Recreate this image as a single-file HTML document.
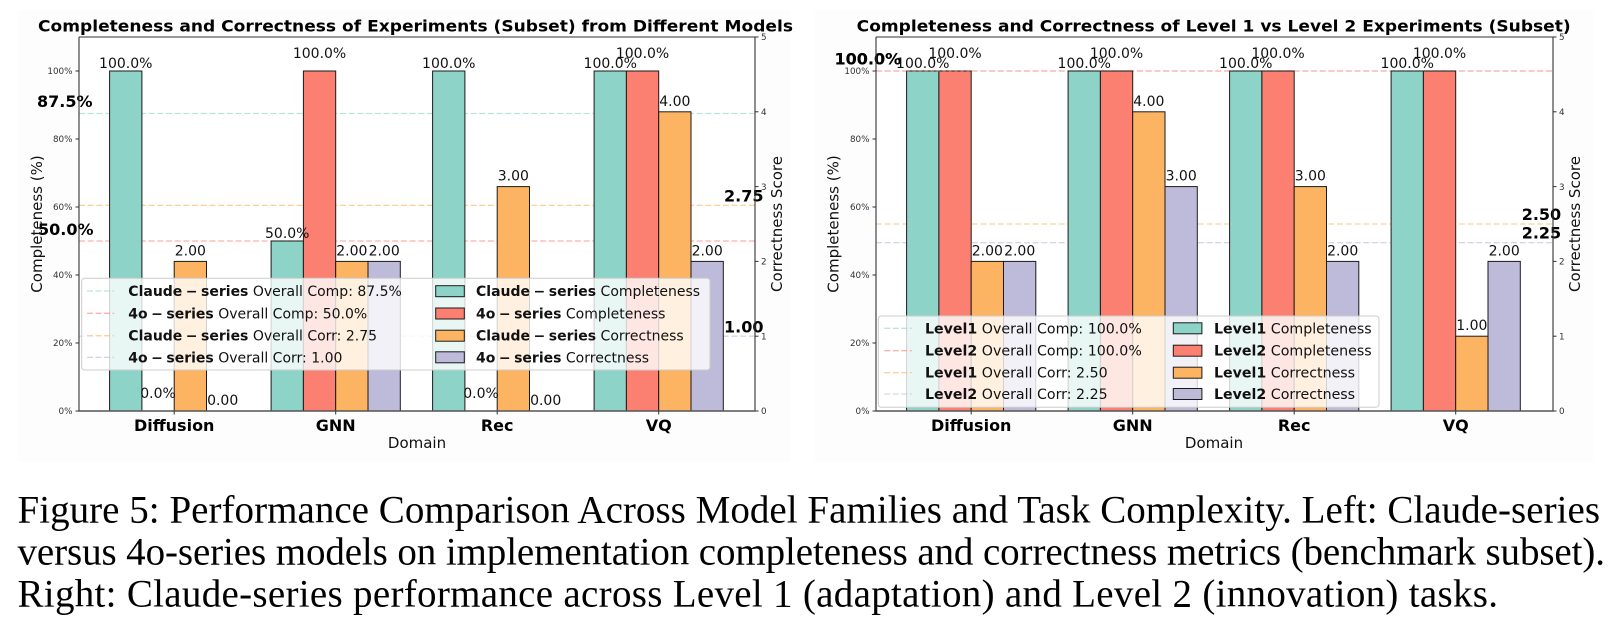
<!DOCTYPE html>
<html>
<head>
<meta charset="utf-8">
<style>
  html,body{margin:0;padding:0;background:#fff;}
  svg{display:block;}
  .t{font-family:"DejaVu Sans","Liberation Sans",sans-serif;}
  .cap{font-family:"Liberation Serif","Times New Roman",serif;}
</style>
</head>
<body>
<svg width="1618" height="632" viewBox="0 0 1618 632" xmlns="http://www.w3.org/2000/svg">
  <rect x="0" y="0" width="1618" height="632" fill="#ffffff"/>
  <rect x="17" y="10" width="773" height="452" fill="#fdfdfd"/>
  <rect x="815" y="10" width="778" height="452" fill="#fdfdfd"/>

  <!-- ================= LEFT CHART ================= -->
  <rect x="79" y="37" width="676" height="374" fill="#ffffff"/>
  <text class="t" x="415.5" y="31.7" font-size="16" font-weight="bold" text-anchor="middle" textLength="755" lengthAdjust="spacingAndGlyphs" fill="#000">Completeness and Correctness of Experiments (Subset) from Different Models</text>

  <!-- overall dashed lines -->
  <g stroke-width="1.3" stroke-dasharray="6,2.7" opacity="0.6">
    <line x1="79" y1="113.5" x2="755" y2="113.5" stroke="#8dd3c7"/>
    <line x1="79" y1="241" x2="755" y2="241" stroke="#fb8072"/>
    <line x1="79" y1="205.3" x2="755" y2="205.3" stroke="#fdb462"/>
    <line x1="79" y1="336.2" x2="755" y2="336.2" stroke="#bebada"/>
  </g>

  <!-- bars -->
  <g stroke="#1a1a1a" stroke-width="1">
    <rect x="109.6" y="71" width="32.3" height="340" fill="#8dd3c7"/>
    <rect x="174.2" y="261.4" width="32.3" height="149.6" fill="#fdb462"/>

    <rect x="271.1" y="241" width="32.3" height="170" fill="#8dd3c7"/>
    <rect x="303.4" y="71" width="32.3" height="340" fill="#fb8072"/>
    <rect x="335.7" y="261.4" width="32.3" height="149.6" fill="#fdb462"/>
    <rect x="368.0" y="261.4" width="32.3" height="149.6" fill="#bebada"/>

    <rect x="432.6" y="71" width="32.3" height="340" fill="#8dd3c7"/>
    <rect x="497.2" y="186.6" width="32.3" height="224.4" fill="#fdb462"/>

    <rect x="594.1" y="71" width="32.3" height="340" fill="#8dd3c7"/>
    <rect x="626.4" y="71" width="32.3" height="340" fill="#fb8072"/>
    <rect x="658.7" y="111.8" width="32.3" height="299.2" fill="#fdb462"/>
    <rect x="691.0" y="261.4" width="32.3" height="149.6" fill="#bebada"/>
  </g>

  <!-- bar labels -->
  <g class="t" font-size="14" text-anchor="middle" fill="#111">
    <text x="125.75" y="68">100.0%</text>
    <text x="158.05" y="398">0.0%</text>
    <text x="190.35" y="255.4">2.00</text>
    <text x="222.65" y="405">0.00</text>

    <text x="287.25" y="238">50.0%</text>
    <text x="319.55" y="58">100.0%</text>
    <text x="351.85" y="255.4">2.00</text>
    <text x="384.15" y="255.4">2.00</text>

    <text x="448.75" y="68">100.0%</text>
    <text x="481.05" y="398">0.0%</text>
    <text x="513.35" y="180.6">3.00</text>
    <text x="545.65" y="405">0.00</text>

    <text x="610.25" y="68">100.0%</text>
    <text x="642.55" y="58">100.0%</text>
    <text x="674.85" y="105.8">4.00</text>
    <text x="707.15" y="255.4">2.00</text>
  </g>

  <!-- big overall labels -->
  <g class="t" font-size="16" font-weight="bold" fill="#000">
    <text x="37" y="107">87.5%</text>
    <text x="38" y="235">50.0%</text>
    <text x="724" y="201.7">2.75</text>
    <text x="724" y="332.7">1.00</text>
  </g>

  <!-- spines -->
  <g stroke="#333" stroke-width="1.1" fill="none">
    <line x1="79" y1="37" x2="755" y2="37"/>
    <line x1="79" y1="37" x2="79" y2="411"/>
    <line x1="755" y1="37" x2="755" y2="411"/>
  </g>
  <line x1="78.5" y1="411" x2="755.5" y2="411" stroke="#555" stroke-width="1.6"/>

  <!-- ticks -->
  <g stroke="#333" stroke-width="1">
    <line x1="75.5" y1="411" x2="79" y2="411"/>
    <line x1="75.5" y1="343" x2="79" y2="343"/>
    <line x1="75.5" y1="275" x2="79" y2="275"/>
    <line x1="75.5" y1="207" x2="79" y2="207"/>
    <line x1="75.5" y1="139" x2="79" y2="139"/>
    <line x1="75.5" y1="71" x2="79" y2="71"/>
    <line x1="755" y1="411" x2="758.5" y2="411"/>
    <line x1="755" y1="336.2" x2="758.5" y2="336.2"/>
    <line x1="755" y1="261.4" x2="758.5" y2="261.4"/>
    <line x1="755" y1="186.6" x2="758.5" y2="186.6"/>
    <line x1="755" y1="111.8" x2="758.5" y2="111.8"/>
    <line x1="755" y1="37" x2="758.5" y2="37"/>
    <line x1="174.2" y1="411" x2="174.2" y2="414.5"/>
    <line x1="335.7" y1="411" x2="335.7" y2="414.5"/>
    <line x1="497.2" y1="411" x2="497.2" y2="414.5"/>
    <line x1="658.7" y1="411" x2="658.7" y2="414.5"/>
  </g>
  <g class="t" font-size="8.8" fill="#333" text-anchor="end">
    <text x="72.5" y="414.2">0%</text>
    <text x="72.5" y="346.2">20%</text>
    <text x="72.5" y="278.2">40%</text>
    <text x="72.5" y="210.2">60%</text>
    <text x="72.5" y="142.2">80%</text>
    <text x="72.5" y="74.2">100%</text>
  </g>
  <g class="t" font-size="8.8" fill="#333">
    <text x="761" y="414.2">0</text>
    <text x="761" y="339.4">1</text>
    <text x="761" y="264.6">2</text>
    <text x="761" y="189.8">3</text>
    <text x="761" y="115">4</text>
    <text x="761" y="40.2">5</text>
  </g>
  <g class="t" font-size="16" font-weight="bold" text-anchor="middle" fill="#000">
    <text x="174.2" y="431">Diffusion</text>
    <text x="335.7" y="431">GNN</text>
    <text x="497.2" y="431">Rec</text>
    <text x="658.7" y="431">VQ</text>
  </g>
  <text class="t" x="417" y="448" font-size="15" text-anchor="middle" fill="#111">Domain</text>
  <text class="t" transform="translate(42,224) rotate(-90)" font-size="15" text-anchor="middle" fill="#111">Completeness (%)</text>
  <text class="t" transform="translate(782,224) rotate(-90)" font-size="15" text-anchor="middle" fill="#111">Correctness Score</text>

  <!-- left legend -->
  <rect x="81.7" y="278.3" width="628.3" height="91.7" rx="3" ry="3" fill="#ffffff" fill-opacity="0.8" stroke="#cccccc" stroke-width="1"/>
  <g stroke-width="1.3" stroke-dasharray="6,2.5" opacity="0.6">
    <line x1="87" y1="291" x2="114" y2="291" stroke="#8dd3c7"/>
    <line x1="87" y1="313.3" x2="114" y2="313.3" stroke="#fb8072"/>
    <line x1="87" y1="335.7" x2="114" y2="335.7" stroke="#fdb462"/>
    <line x1="87" y1="357.3" x2="114" y2="357.3" stroke="#bebada"/>
  </g>
  <g stroke="#1a1a1a" stroke-width="1">
    <rect x="435.7" y="285.7" width="28.6" height="11" fill="#8dd3c7"/>
    <rect x="435.7" y="308" width="28.6" height="11" fill="#fb8072"/>
    <rect x="435.7" y="330.2" width="28.6" height="11" fill="#fdb462"/>
    <rect x="435.7" y="351.8" width="28.6" height="11" fill="#bebada"/>
  </g>
  <g class="t" font-size="14" fill="#111">
    <text x="128.3" y="296"><tspan font-weight="bold">Claude&#8197;&#8722;&#8197;series</tspan> Overall Comp: 87.5%</text>
    <text x="128.3" y="318.3"><tspan font-weight="bold">4o&#8197;&#8722;&#8197;series</tspan> Overall Comp: 50.0%</text>
    <text x="128.3" y="340.7"><tspan font-weight="bold">Claude&#8197;&#8722;&#8197;series</tspan> Overall Corr: 2.75</text>
    <text x="128.3" y="362.3"><tspan font-weight="bold">4o&#8197;&#8722;&#8197;series</tspan> Overall Corr: 1.00</text>
    <text x="476" y="296"><tspan font-weight="bold">Claude&#8197;&#8722;&#8197;series</tspan> Completeness</text>
    <text x="476" y="318.3"><tspan font-weight="bold">4o&#8197;&#8722;&#8197;series</tspan> Completeness</text>
    <text x="476" y="340.7"><tspan font-weight="bold">Claude&#8197;&#8722;&#8197;series</tspan> Correctness</text>
    <text x="476" y="362.3"><tspan font-weight="bold">4o&#8197;&#8722;&#8197;series</tspan> Correctness</text>
  </g>

  <!-- ================= RIGHT CHART ================= -->
  <rect x="876" y="37" width="677" height="374" fill="#ffffff"/>
  <text class="t" x="1213.7" y="31.7" font-size="16" font-weight="bold" text-anchor="middle" textLength="714" lengthAdjust="spacingAndGlyphs" fill="#000">Completeness and Correctness of Level 1 vs Level 2 Experiments (Subset)</text>

  <g stroke-width="1.3" stroke-dasharray="6,2.7" opacity="0.6">
    <line x1="876" y1="71" x2="1553" y2="71" stroke="#8dd3c7"/>
    <line x1="876" y1="71" x2="1553" y2="71" stroke="#fb8072"/>
    <line x1="876" y1="224" x2="1553" y2="224" stroke="#fdb462"/>
    <line x1="876" y1="242.7" x2="1553" y2="242.7" stroke="#bebada"/>
  </g>

  <g stroke="#1a1a1a" stroke-width="1">
    <rect x="906.6" y="71" width="32.3" height="340" fill="#8dd3c7"/>
    <rect x="938.9" y="71" width="32.3" height="340" fill="#fb8072"/>
    <rect x="971.2" y="261.4" width="32.3" height="149.6" fill="#fdb462"/>
    <rect x="1003.5" y="261.4" width="32.3" height="149.6" fill="#bebada"/>

    <rect x="1068.1" y="71" width="32.3" height="340" fill="#8dd3c7"/>
    <rect x="1100.4" y="71" width="32.3" height="340" fill="#fb8072"/>
    <rect x="1132.7" y="111.8" width="32.3" height="299.2" fill="#fdb462"/>
    <rect x="1165.0" y="186.6" width="32.3" height="224.4" fill="#bebada"/>

    <rect x="1229.6" y="71" width="32.3" height="340" fill="#8dd3c7"/>
    <rect x="1261.9" y="71" width="32.3" height="340" fill="#fb8072"/>
    <rect x="1294.2" y="186.6" width="32.3" height="224.4" fill="#fdb462"/>
    <rect x="1326.5" y="261.4" width="32.3" height="149.6" fill="#bebada"/>

    <rect x="1391.1" y="71" width="32.3" height="340" fill="#8dd3c7"/>
    <rect x="1423.4" y="71" width="32.3" height="340" fill="#fb8072"/>
    <rect x="1455.7" y="336.2" width="32.3" height="74.8" fill="#fdb462"/>
    <rect x="1488.0" y="261.4" width="32.3" height="149.6" fill="#bebada"/>
  </g>
  <g stroke-width="1.3" stroke-dasharray="3,3" opacity="0.5">
    <line x1="906.6" y1="71" x2="971.2" y2="71" stroke="#fb8072"/>
  </g>

  <g class="t" font-size="14" text-anchor="middle" fill="#111">
    <text x="922.75" y="68">100.0%</text>
    <text x="955.05" y="58">100.0%</text>
    <text x="987.35" y="255.4">2.00</text>
    <text x="1019.65" y="255.4">2.00</text>

    <text x="1084.25" y="68">100.0%</text>
    <text x="1116.55" y="58">100.0%</text>
    <text x="1148.85" y="105.8">4.00</text>
    <text x="1181.15" y="180.6">3.00</text>

    <text x="1245.75" y="68">100.0%</text>
    <text x="1278.05" y="58">100.0%</text>
    <text x="1310.35" y="180.6">3.00</text>
    <text x="1342.65" y="255.4">2.00</text>

    <text x="1407.25" y="68">100.0%</text>
    <text x="1439.55" y="58">100.0%</text>
    <text x="1471.85" y="330.2">1.00</text>
    <text x="1504.15" y="255.4">2.00</text>
  </g>

  <g class="t" font-size="16" font-weight="bold" fill="#000">
    <text x="834.5" y="64.5">100.0%</text>
    <text x="834.5" y="64.5">100.0%</text>
    <text x="1521.7" y="220">2.50</text>
    <text x="1521.7" y="238.5">2.25</text>
  </g>

  <g stroke="#333" stroke-width="1.1" fill="none">
    <line x1="876" y1="37" x2="1553" y2="37"/>
    <line x1="876" y1="37" x2="876" y2="411"/>
    <line x1="1553" y1="37" x2="1553" y2="411"/>
  </g>
  <line x1="875.5" y1="411" x2="1553.5" y2="411" stroke="#555" stroke-width="1.6"/>

  <g stroke="#333" stroke-width="1">
    <line x1="872.5" y1="411" x2="876" y2="411"/>
    <line x1="872.5" y1="343" x2="876" y2="343"/>
    <line x1="872.5" y1="275" x2="876" y2="275"/>
    <line x1="872.5" y1="207" x2="876" y2="207"/>
    <line x1="872.5" y1="139" x2="876" y2="139"/>
    <line x1="872.5" y1="71" x2="876" y2="71"/>
    <line x1="1553" y1="411" x2="1556.5" y2="411"/>
    <line x1="1553" y1="336.2" x2="1556.5" y2="336.2"/>
    <line x1="1553" y1="261.4" x2="1556.5" y2="261.4"/>
    <line x1="1553" y1="186.6" x2="1556.5" y2="186.6"/>
    <line x1="1553" y1="111.8" x2="1556.5" y2="111.8"/>
    <line x1="1553" y1="37" x2="1556.5" y2="37"/>
    <line x1="971.2" y1="411" x2="971.2" y2="414.5"/>
    <line x1="1132.7" y1="411" x2="1132.7" y2="414.5"/>
    <line x1="1294.2" y1="411" x2="1294.2" y2="414.5"/>
    <line x1="1455.7" y1="411" x2="1455.7" y2="414.5"/>
  </g>
  <g class="t" font-size="8.8" fill="#333" text-anchor="end">
    <text x="869.5" y="414.2">0%</text>
    <text x="869.5" y="346.2">20%</text>
    <text x="869.5" y="278.2">40%</text>
    <text x="869.5" y="210.2">60%</text>
    <text x="869.5" y="142.2">80%</text>
    <text x="869.5" y="74.2">100%</text>
  </g>
  <g class="t" font-size="8.8" fill="#333">
    <text x="1559" y="414.2">0</text>
    <text x="1559" y="339.4">1</text>
    <text x="1559" y="264.6">2</text>
    <text x="1559" y="189.8">3</text>
    <text x="1559" y="115">4</text>
    <text x="1559" y="40.2">5</text>
  </g>
  <g class="t" font-size="16" font-weight="bold" text-anchor="middle" fill="#000">
    <text x="971.2" y="431">Diffusion</text>
    <text x="1132.7" y="431">GNN</text>
    <text x="1294.2" y="431">Rec</text>
    <text x="1455.7" y="431">VQ</text>
  </g>
  <text class="t" x="1214" y="448" font-size="15" text-anchor="middle" fill="#111">Domain</text>
  <text class="t" transform="translate(838.5,224) rotate(-90)" font-size="15" text-anchor="middle" fill="#111">Completeness (%)</text>
  <text class="t" transform="translate(1580,224) rotate(-90)" font-size="15" text-anchor="middle" fill="#111">Correctness Score</text>

  <!-- right legend -->
  <rect x="878.3" y="316" width="500.7" height="91.3" rx="3" ry="3" fill="#ffffff" fill-opacity="0.8" stroke="#cccccc" stroke-width="1"/>
  <g stroke-width="1.3" stroke-dasharray="6,2.5" opacity="0.6">
    <line x1="884.3" y1="328.3" x2="911.7" y2="328.3" stroke="#8dd3c7"/>
    <line x1="884.3" y1="350.7" x2="911.7" y2="350.7" stroke="#fb8072"/>
    <line x1="884.3" y1="372.7" x2="911.7" y2="372.7" stroke="#fdb462"/>
    <line x1="884.3" y1="394" x2="911.7" y2="394" stroke="#bebada"/>
  </g>
  <g stroke="#1a1a1a" stroke-width="1">
    <rect x="1173.3" y="322.8" width="28.6" height="11" fill="#8dd3c7"/>
    <rect x="1173.3" y="345.2" width="28.6" height="11" fill="#fb8072"/>
    <rect x="1173.3" y="367.2" width="28.6" height="11" fill="#fdb462"/>
    <rect x="1173.3" y="388.5" width="28.6" height="11" fill="#bebada"/>
  </g>
  <g class="t" font-size="14.2" fill="#111">
    <text x="925" y="333.3"><tspan font-weight="bold">Level1</tspan> Overall Comp: 100.0%</text>
    <text x="925" y="355.7"><tspan font-weight="bold">Level2</tspan> Overall Comp: 100.0%</text>
    <text x="925" y="377.7"><tspan font-weight="bold">Level1</tspan> Overall Corr: 2.50</text>
    <text x="925" y="399"><tspan font-weight="bold">Level2</tspan> Overall Corr: 2.25</text>
    <text x="1214" y="333.3"><tspan font-weight="bold">Level1</tspan> Completeness</text>
    <text x="1214" y="355.7"><tspan font-weight="bold">Level2</tspan> Completeness</text>
    <text x="1214" y="377.7"><tspan font-weight="bold">Level1</tspan> Correctness</text>
    <text x="1214" y="399"><tspan font-weight="bold">Level2</tspan> Correctness</text>
  </g>

  <!-- ================= CAPTION ================= -->
  <g class="cap" font-size="39" fill="#000">
    <text x="17.5" y="522.3" textLength="1582.5" lengthAdjust="spacing">Figure 5: Performance Comparison Across Model Families and Task Complexity. Left: Claude-series</text>
    <text x="17.5" y="564.5" textLength="1587.5" lengthAdjust="spacing">versus 4o-series models on implementation completeness and correctness metrics (benchmark subset).</text>
    <text x="17.5" y="606.7" textLength="1480.5" lengthAdjust="spacing">Right: Claude-series performance across Level 1 (adaptation) and Level 2 (innovation) tasks.</text>
  </g>
</svg>
</body>
</html>
